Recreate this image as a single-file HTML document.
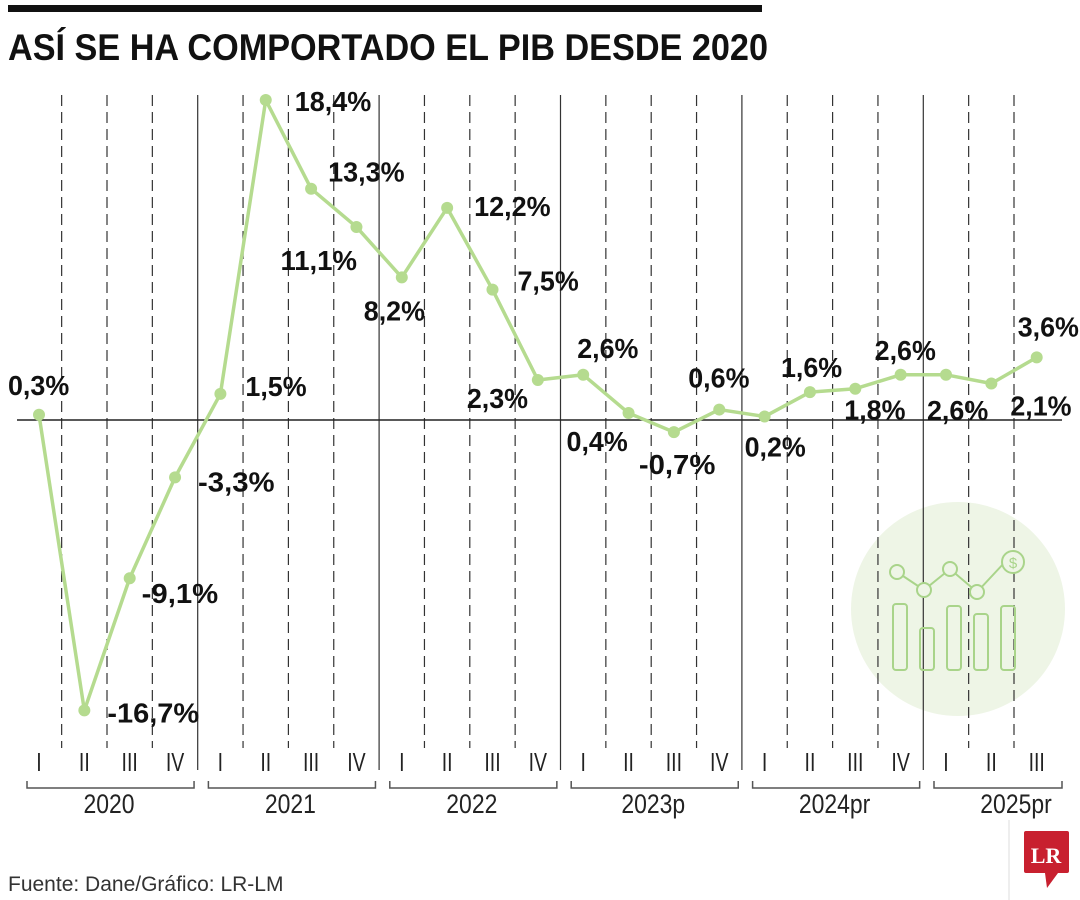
<!DOCTYPE html>
<html><head><meta charset="utf-8"><style>
html,body{margin:0;padding:0;background:#fff;}
svg{display:block;font-family:"Liberation Sans Narrow","Liberation Sans",sans-serif;}
</style></head><body>
<svg id="chart" width="1080" height="900" viewBox="0 0 1080 900">
<rect x="8" y="5" width="754" height="7" fill="#111"/>
<text x="8" y="60" font-size="37" font-weight="bold" fill="#111" textLength="760" lengthAdjust="spacingAndGlyphs">ASÍ SE HA COMPORTADO EL PIB DESDE 2020</text>
<circle cx="958" cy="609" r="107" fill="#eef5e6"/>
<g id="grid"></g>
<line x1="17" y1="420" x2="1062" y2="420" stroke="#222" stroke-width="1.5"/>
<g id="icon" fill="none" stroke="#a9d48a" stroke-width="2">
<polyline points="897,572 924,590 950,569 977,592 1005,562"/>
<circle cx="897" cy="572" r="7" fill="#eef5e6"/><circle cx="924" cy="590" r="7" fill="#eef5e6"/>
<circle cx="950" cy="569" r="7" fill="#eef5e6"/><circle cx="977" cy="592" r="7" fill="#eef5e6"/>
<circle cx="1013" cy="562" r="11" fill="#eef5e6"/>
<text x="1013" y="568" font-size="15" fill="#a9d48a" stroke="none" text-anchor="middle">$</text>
<rect x="893" y="604" width="14" height="66" rx="3"/><rect x="920" y="628" width="14" height="42" rx="3"/>
<rect x="947" y="606" width="14" height="64" rx="3"/><rect x="974" y="614" width="14" height="56" rx="3"/>
<rect x="1001" y="606" width="14" height="64" rx="3"/>
</g>
<g id="series"></g>
<g id="axis"></g>
<text x="8" y="891" font-size="21" fill="#333">Fuente: Dane/Gráfico: LR-LM</text>
<line x1="1009" y1="820" x2="1009" y2="900" stroke="#ddd"/>
<g>
<rect x="1024" y="831" width="45" height="42" rx="2" fill="#c8202f"/>
<polygon points="1045,873 1058,873 1047,888" fill="#c8202f"/>
<text x="1046" y="863" font-family="Liberation Serif,serif" font-weight="bold" font-size="22" fill="#fff" text-anchor="middle">LR</text>
</g>
</svg>
<script>
const quarters=["I","II","III","IV","I","II","III","IV","I","II","III","IV","I","II","III","IV","I","II","III","IV","I","II","III"];
const years=["2020","2021","2022","2023p","2024pr","2025pr"];
const values=[0.3,-16.7,-9.1,-3.3,1.5,18.4,13.3,11.1,8.2,12.2,7.5,2.3,2.6,0.4,-0.7,0.6,0.2,1.6,1.8,2.6,2.6,2.1,3.6];
const valueLabels=["0,3%","-16,7%","-9,1%","-3,3%","1,5%","18,4%","13,3%","11,1%","8,2%","12,2%","7,5%","2,3%","2,6%","0,4%","-0,7%","0,6%","0,2%","1,6%","1,8%","2,6%","2,6%","2,1%","3,6%"];
// label offsets (dx to left edge, dy to label centre) relative to point — layout only
const off=[[-31,-30],[23,2],[12,15],[23,4],[25,-8],[29,1],[17,-17],[-76,33],[-38,33],[27,-2],[25,-9],[-71,18],[-6,-27],[-62,28],[-35,32],[-31,-32],[-20,30],[-29,-25],[-11,21],[-26,-25],[-19,35],[19,22],[-19,-31]];
const NS="http://www.w3.org/2000/svg";
const x=i=>39+i*45.35;
const y=v=>420-v*17.39;
function mk(t,a,p){const e=document.createElementNS(NS,t);for(const k in a)e.setAttribute(k,a[k]);p.appendChild(e);return e;}
const grid=document.getElementById('grid'),ser=document.getElementById('series'),ax=document.getElementById('axis');
for(let i=1;i<quarters.length;i++){
  const bx=x(i)-22.7, solid=(i%4===0);
  const l=mk('line',{x1:bx,x2:bx,y1:95,y2:solid?770:748,stroke:'#333','stroke-width':1.2,'stroke-dasharray':solid?'none':'11,6'},grid);
  
  
}
quarters.forEach((q,i)=>{
  const t=mk('text',{x:x(i),y:771,'font-size':26,'text-anchor':'middle',fill:'#222',transform:`translate(${x(i)},0) scale(0.75,1) translate(${-x(i)},0)`},ax);t.textContent=q;
  
  
});
years.forEach((yr,j)=>{
  const a=x(j*4)-12, b=Math.min(x(j*4+3)+19,1062);
  const p=mk('path',{d:`M${a},781 V788 H${b} V781`,fill:'none',stroke:'#555','stroke-width':1.5},ax);
  
  
  const cx=(x(j*4)+x(j*4+3))/2+2;
  const t=mk('text',{x:cx,y:813,'font-size':27,'text-anchor':'middle',fill:'#222',transform:`translate(${cx},0) scale(0.85,1) translate(${-cx},0)`},ax);t.textContent=yr;
  
  
});
const pl=mk('polyline',{points:values.map((v,i)=>x(i)+','+y(v)).join(' '),fill:'none',stroke:'#b5db8f','stroke-width':3.5,'stroke-linejoin':'round'},ser);


values.forEach((v,i)=>{
  const c=mk('circle',{cx:x(i),cy:y(v),r:6,fill:'#b5db8f'},ser);
  
  
  const o=off[i];
  const t=mk('text',{x:x(i)+o[0],y:y(v)+o[1]+10,'font-size':28,'font-weight':'bold',fill:'#111'},ser);
  t.textContent=valueLabels[i];
  t.setAttribute('textLength',valueLabels[i].length*15.3);
  t.setAttribute('lengthAdjust','spacingAndGlyphs');
  
  
});
</script>
</body></html>
